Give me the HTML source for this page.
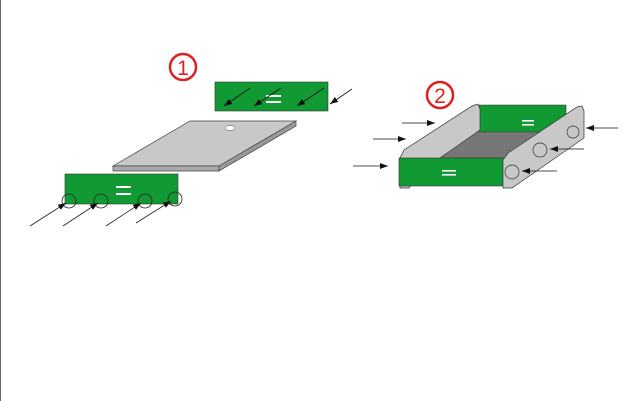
<!DOCTYPE html>
<html><head><style>html,body{margin:0;padding:0;background:#fff;}svg{display:block}</style></head>
<body>
<svg width="644" height="401" viewBox="0 0 644 401" xmlns="http://www.w3.org/2000/svg">
<defs><marker id="a" markerWidth="8" markerHeight="6" refX="8" refY="3" orient="auto" markerUnits="userSpaceOnUse"><path d="M0,0L8,3L0,6z" fill="#111"/></marker></defs>
<line x1="0.5" y1="0" x2="0.5" y2="401" stroke="#666"/>
<g font-family="Liberation Sans, sans-serif" fill="#d22">
<circle cx="183" cy="67" r="13" fill="none" stroke="#d22" stroke-width="2.5"/>
<text x="183" y="75" font-size="21" text-anchor="middle">1</text>
<circle cx="440" cy="95" r="13" fill="none" stroke="#d22" stroke-width="2.5"/>
<text x="440" y="103" font-size="21" text-anchor="middle">2</text>
</g>
<!-- top green panel -->
<rect x="215" y="82" width="113" height="29" fill="#119933" stroke="#333" stroke-width="0.6"/>
<rect x="266" y="95" width="15" height="2" fill="#fff"/><rect x="266" y="101" width="15" height="2" fill="#fff"/>
<g stroke="#111" stroke-width="0.8">
<line x1="250" y1="88" x2="224" y2="106" marker-end="url(#a)"/>
<line x1="281" y1="88" x2="254" y2="106" marker-end="url(#a)"/>
<line x1="324" y1="88" x2="297" y2="106" marker-end="url(#a)"/>
<line x1="352" y1="89" x2="330" y2="104" marker-end="url(#a)"/>
</g>
<!-- plate -->
<polygon points="113,166 190,121 296,121 219,166" fill="#c8c8c8" stroke="#444" stroke-width="0.7"/>
<polygon points="113,166 219,166 219,171 113,171" fill="#aaa" stroke="#444" stroke-width="0.7"/>
<polygon points="219,166 296,121 296,126 219,171" fill="#999" stroke="#444" stroke-width="0.7"/>
<ellipse cx="230" cy="128" rx="5" ry="2.5" fill="#fff" stroke="#555" stroke-width="0.5"/>
<!-- bottom green panel -->
<rect x="65" y="174" width="113" height="30" fill="#119933" stroke="#333" stroke-width="0.6"/>
<rect x="116" y="186" width="15" height="2" fill="#fff"/><rect x="116" y="193" width="15" height="2" fill="#fff"/>
<g fill="none" stroke="#222" stroke-width="0.8">
<circle cx="69" cy="201" r="7"/><circle cx="101" cy="201" r="7"/><circle cx="145" cy="201" r="7"/><circle cx="175" cy="199" r="7"/>
<line x1="30" y1="226" x2="66" y2="203" marker-end="url(#a)"/>
<line x1="63" y1="226" x2="98" y2="203" marker-end="url(#a)"/>
<line x1="106" y1="226" x2="141" y2="203" marker-end="url(#a)"/>
<line x1="136" y1="223" x2="171" y2="201" marker-end="url(#a)"/>
</g>
<!-- drawer -->
<polygon points="475,105 566,105 566,132 475,132" fill="#119933" stroke="#333" stroke-width="0.6"/>
<rect x="522" y="120" width="12" height="1.6" fill="#fff"/><rect x="522" y="124" width="12" height="1.6" fill="#fff"/>
<polygon points="440,158 475,132 545,132 505,158" fill="#777" stroke="#444" stroke-width="0.5"/>
<polygon points="400,188 400,158 404,150 472,106 478,104 480,109 480,130 440,158 418,176 409,188" fill="#c8c8c8" stroke="#333" stroke-width="0.7"/>
<rect x="399" y="158" width="104" height="28" fill="#119933" stroke="#333" stroke-width="0.6"/>
<rect x="442" y="170" width="14" height="1.6" fill="#fff"/><rect x="442" y="174" width="14" height="1.6" fill="#fff"/>
<polygon points="503,188 503,160 508,153 577,107 582,106 584,111 584,138 512,188" fill="#c8c8c8" stroke="#333" stroke-width="0.7"/>
<g fill="none" stroke="#333" stroke-width="0.7">
<circle cx="512" cy="172" r="7"/><circle cx="540" cy="150" r="7"/><circle cx="573" cy="132" r="6"/>
</g>
<g stroke="#111" stroke-width="0.8">
<line x1="402" y1="123" x2="435" y2="123" marker-end="url(#a)"/>
<line x1="373" y1="139" x2="406" y2="139" marker-end="url(#a)"/>
<line x1="353" y1="166" x2="388" y2="166" marker-end="url(#a)"/>
<line x1="618" y1="128" x2="586" y2="128" marker-end="url(#a)"/>
<line x1="584" y1="149" x2="550" y2="149" marker-end="url(#a)"/>
<line x1="557" y1="171" x2="522" y2="171" marker-end="url(#a)"/>
</g>
</svg>
</body></html>
